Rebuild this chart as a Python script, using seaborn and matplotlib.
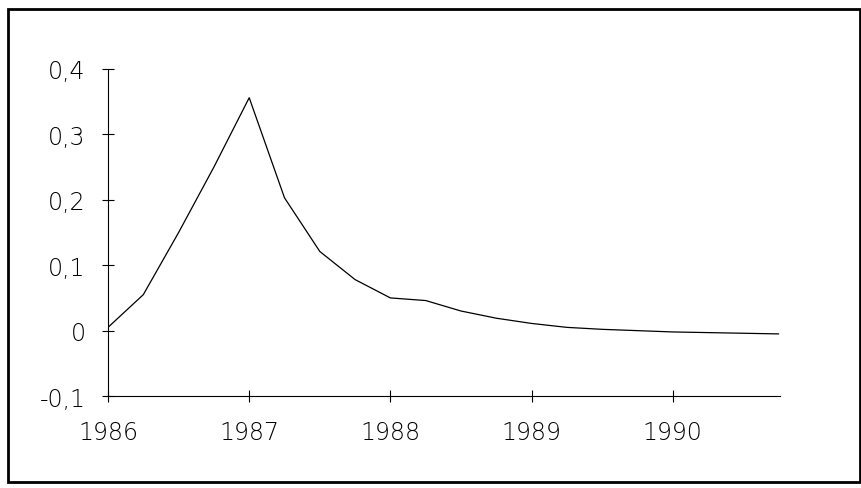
"""
Recreate the 1986-1990 response curve chart (decimal comma axis).
"""

import pandas as pd
import seaborn as sns
import matplotlib.pyplot as plt
from matplotlib.patches import Rectangle
from matplotlib.ticker import FuncFormatter

# quarterly values
quarters = [1986.00, 1986.25, 1986.50, 1986.75,
            1987.00, 1987.25, 1987.50, 1987.75,
            1988.00, 1988.25, 1988.50, 1988.75,
            1989.00, 1989.25, 1989.50, 1989.75,
            1990.00, 1990.25, 1990.50, 1990.75]
values = [0.005, 0.055, 0.150, 0.250,
          0.356, 0.203, 0.121, 0.078,
          0.050, 0.046, 0.030, 0.019,
          0.011, 0.005, 0.002, 0.000,
          -0.002, -0.003, -0.004, -0.005]
year_ticks = [1986, 1987, 1988, 1989, 1990]
value_ticks = [-0.1, 0, 0.1, 0.2, 0.3, 0.4]

df = pd.DataFrame({'t': quarters, 'v': values})

sns.set_style('ticks')
plt.rcParams['font.family'] = ['DejaVu Sans']

fig = plt.figure(figsize=(8.62, 4.89), dpi=100)
ax = fig.add_axes([0.1253, 0.188, 0.7797, 0.669])

sns.lineplot(data=df, x='t', y='v', color='black', linewidth=0.9, ax=ax)

ax.set_xlim(1986, 1990.76)
ax.set_ylim(-0.1, 0.4)
ax.set_xticks(year_ticks)
ax.set_yticks(value_ticks)
ax.yaxis.set_major_formatter(FuncFormatter(
    lambda v, _: ('%g' % round(v, 2)).replace('.', ',')))
ax.set_xlabel('')
ax.set_ylabel('')

# axis lines only on left and bottom, crossing ticks
sns.despine(ax=ax)
for side in ('left', 'bottom'):
    ax.spines[side].set_color('black')
    ax.spines[side].set_linewidth(0.8)
ax.tick_params(axis='both', which='major', direction='inout', length=8,
               width=0.8, colors='black', labelsize=17,
               bottom=True, left=True)
ax.tick_params(axis='x', pad=13)
ax.tick_params(axis='y', pad=12)
for lab in ax.get_xticklabels() + ax.get_yticklabels():
    lab.set_fontweight('light')

# outer frame round the whole chart
fig.patches.append(Rectangle((0.0093, 0.0123), 0.988, 0.967,
                             transform=fig.transFigure, fill=False,
                             edgecolor='black', linewidth=2))

fig.savefig('out.png', dpi=100)
plt.close(fig)
